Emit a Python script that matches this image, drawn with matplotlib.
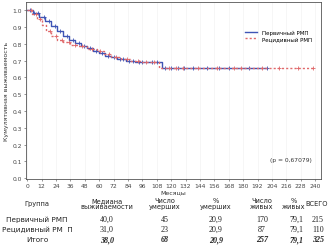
import numpy as np
import matplotlib
matplotlib.use('Agg')
import matplotlib.pyplot as plt

# Kaplan-Meier steps (months, cumulative survival)
prim_t = [0, 5, 10, 15, 20, 25, 30, 35, 40, 45, 50, 55, 60, 65, 70, 75, 82, 90, 100, 112, 200]
prim_s = [1.0, 0.985, 0.96, 0.935, 0.905, 0.875, 0.85, 0.825, 0.805, 0.79, 0.775, 0.76, 0.745, 0.73, 0.72, 0.71, 0.70, 0.695, 0.69, 0.655, 0.655]
prim_c = [2, 6, 9, 14, 18, 23, 27, 33, 38, 43, 47, 52, 57, 62, 67, 72, 77, 80, 85, 88, 93, 96,
          104, 108, 115, 120, 126, 131, 138, 150, 160, 168, 185, 200]

rec_t = [0, 4, 8, 12, 16, 20, 25, 30, 36, 42, 50, 58, 64, 70, 78, 86, 96, 110, 238]
rec_s = [1.0, 0.98, 0.95, 0.91, 0.875, 0.845, 0.825, 0.81, 0.795, 0.785, 0.77, 0.755, 0.74, 0.725, 0.71, 0.70, 0.69, 0.655, 0.655]
rec_c = [3, 7, 11, 19, 24, 29, 35, 40, 46, 54, 61, 68, 74, 83, 92, 99, 106, 118, 124, 130,
         142, 158, 172, 178, 196, 210, 226, 238]

groups = ['Первичный РМП', 'Рецидивный РМ  П']
medians = ['40,0', '31,0', '38,0']
dead = ['45', '23', '68']
pct_dead = ['20,9', '20,9', '20,9']
alive = ['170', '87', '257']
pct_alive = ['79,1', '79,1', '79,1']
total = ['215', '110', '325']


def step_at(t, s, x):
    i = np.searchsorted(t, x, side='right') - 1
    return np.array(s)[i]


fig = plt.figure(figsize=(3.28, 2.51), dpi=100)
fig.patch.set_facecolor('white')
ax = fig.add_axes([0.079, 0.283, 0.9, 0.705])

blue = '#3f55b5'
red = '#e0686a'
ax.step(prim_t, prim_s, where='post', color=blue, lw=1.0, label='Первичный РМП')
ax.plot(prim_c, step_at(prim_t, prim_s, prim_c), '+', color=blue, ms=2.5, mew=0.6)
ax.step(rec_t, rec_s, where='post', color=red, lw=1.0, ls=(0, (1.5, 1.5)), label='Рецидивный РМП')
ax.plot(rec_c, step_at(rec_t, rec_s, rec_c), '+', color=red, ms=2.5, mew=0.6)

ax.set_xlim(-1, 245)
ax.set_ylim(-0.005, 1.05)
ax.set_xticks(np.arange(0, 241, 12))
ax.set_yticks(np.arange(0, 1.01, 0.1))
ax.set_yticklabels(['%.1f' % v for v in np.arange(0, 1.01, 0.1)])
ax.tick_params(labelsize=4.3, length=1.5, width=0.4, pad=1.5, colors='#444444')
for sp in ax.spines.values():
    sp.set_linewidth(0.6)
    sp.set_color('#555555')
ax.grid(axis='x', color='#f0f0f0', lw=0.4)
ax.set_xlabel('Месяцы', fontsize=4.5, labelpad=1, color='#333333')
ax.set_ylabel('Кумулятивная выживаемость', fontsize=4.5, labelpad=2, color='#333333')

ax.legend(loc='upper right', bbox_to_anchor=(0.985, 0.87), fontsize=4.0, frameon=False,
          handlelength=2.2, labelspacing=0.2)
ax.text(0.97, 0.1, '(p = 0,67079)', transform=ax.transAxes, ha='right', fontsize=4.3, color='#333333')

# table under the chart
sans = 'DejaVu Sans'
serif = 'Liberation Serif'
head_x = [37, 107, 165, 216, 262, 294, 317]
val_x = [37, 107, 165, 216, 262, 297, 318]
heads = ['Группа', 'Медиана\nвыживаемости', 'Число\nумерших', '%\nумерших', 'Число\nживых', '%\nживых', 'ВСЕГО']
W, H = 328.0, 251.0
for x, h in zip(head_x, heads):
    fig.text(x / W, 1 - 204 / H, h, ha='center', va='center', fontsize=4.8, family=sans,
             color='#222222', linespacing=1.15)

row_y = [220, 230, 240]
labels = groups + ['Итого']
for r, y in enumerate(row_y):
    fig.text(val_x[0] / W, 1 - y / H, labels[r], ha='center', va='center', fontsize=5.2,
             family=sans, color='#222222')
    vals = [medians[r], dead[r], pct_dead[r], alive[r], pct_alive[r], total[r]]
    for x, v in zip(val_x[1:], vals):
        if r == 2:
            fig.text(x / W, 1 - y / H, v, ha='center', va='center', fontsize=5.8, family=serif,
                     style='italic', weight='bold', color='#222222')
        else:
            fig.text(x / W, 1 - y / H, v, ha='center', va='center', fontsize=5.8, family=serif,
                     color='#222222')

fig.savefig('out.png', dpi=100)
